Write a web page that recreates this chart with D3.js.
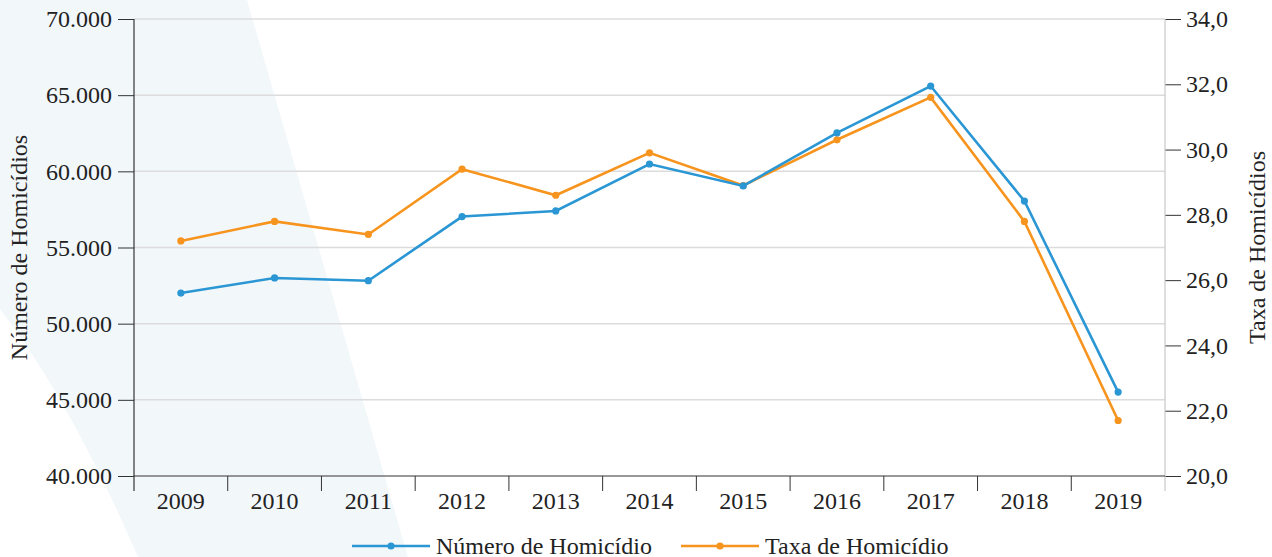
<!DOCTYPE html>
<html>
<head>
<meta charset="utf-8">
<script src="https://cdn.jsdelivr.net/npm/d3@7"></script>
<style>
  body { margin: 0; background: #fff; }
  svg text { font-family: "Liberation Serif", "Times New Roman", serif; fill: #222; }
</style>
</head>
<body>
<div id="chart"></div>
<script>
var years = ["2009","2010","2011","2012","2013","2014","2015","2016","2017","2018","2019"];
var numeroHomicidios = [52010, 53000, 52820, 57030, 57400, 60480, 59040, 62520, 65600, 58050, 45510];
var taxaHomicidios = [27.2, 27.8, 27.4, 29.4, 28.6, 29.9, 28.9, 30.3, 31.6, 27.8, 21.7];
var leftTicks = [40000, 45000, 50000, 55000, 60000, 65000, 70000];
var rightTicks = [20, 22, 24, 26, 28, 30, 32, 34];

var width = 1272, height = 557;
var mLeft = 134, mRight = 1165, mTop = 19, mBottom = 476;
var blue = "#2a96d3", orange = "#f7941e";
var fs = 24;

var ptbr = d3.formatLocale({decimal: ",", thousands: ".", grouping: [3], currency: ["R$", ""]});
var fmtL = ptbr.format(",.0f"), fmtR = ptbr.format(".1f");

var svg = d3.select("#chart").append("svg")
  .attr("width", width)
  .attr("height", height);

// faint background shape
svg.append("path")
  .attr("d", "M0,0 L247,0 L408,557 L138,557 Q70,400 0,309 Z")
  .attr("fill", "#f2f7fa");

var x = d3.scaleBand().domain(years).range([mLeft, mRight]);
var yL = d3.scaleLinear().domain([40000, 70000]).range([mBottom, mTop]);
var yR = d3.scaleLinear().domain([20, 34]).range([mBottom, mTop]);

// gridlines
svg.append("g").selectAll("line")
  .data(leftTicks.slice(1))
  .enter().append("line")
  .attr("x1", mLeft).attr("x2", mRight)
  .attr("y1", function(d){ return yL(d); })
  .attr("y2", function(d){ return yL(d); })
  .attr("stroke", "#dcdcdc")
  .attr("stroke-width", 1.5);

// right axis
var gR = svg.append("g")
  .attr("transform", "translate(" + mRight + ",0)")
  .call(d3.axisRight(yR).tickValues(rightTicks).tickFormat(fmtR).tickSize(16).tickPadding(5).tickSizeOuter(0));
gR.select(".domain").remove();
gR.append("line").attr("x1", 0).attr("x2", 0).attr("y1", mTop).attr("y2", 491)
  .attr("stroke", "#c8c8c8").attr("stroke-width", 1.2);
gR.selectAll(".tick line").attr("stroke", "#333");
gR.selectAll(".tick text").attr("font-size", fs).attr("fill", "#222")
  .style("font-family", "Liberation Serif, serif");

// left axis
var gL = svg.append("g")
  .attr("transform", "translate(" + mLeft + ",0)")
  .call(d3.axisLeft(yL).tickValues(leftTicks).tickFormat(fmtL).tickSize(16).tickPadding(6).tickSizeOuter(0));
gL.select(".domain").remove();
gL.append("line").attr("x1", 0).attr("x2", 0).attr("y1", mTop).attr("y2", 491)
  .attr("stroke", "#333").attr("stroke-width", 1.2);
gL.selectAll(".tick line").attr("stroke", "#333");
gL.selectAll(".tick text").attr("font-size", fs).attr("fill", "#222")
  .style("font-family", "Liberation Serif, serif");

// bottom axis
var gB = svg.append("g")
  .attr("transform", "translate(0," + mBottom + ")")
  .call(d3.axisBottom(x).tickSize(0).tickPadding(16));
gB.select(".domain").remove();
gB.append("line").attr("x1", mLeft).attr("x2", mRight).attr("y1", 0).attr("y2", 0)
  .attr("stroke", "#333").attr("stroke-width", 1.2);
gB.selectAll(".edge")
  .data(years.slice(1))
  .enter().append("line")
  .attr("x1", function(d){ return x(d); })
  .attr("x2", function(d){ return x(d); })
  .attr("y1", 0).attr("y2", 15)
  .attr("stroke", "#333");
gB.selectAll(".tick text").attr("font-size", fs).attr("fill", "#222")
  .style("font-family", "Liberation Serif, serif");

// axis titles
svg.append("text")
  .attr("transform", "translate(27," + ((mTop + mBottom) / 2) + ") rotate(-90)")
  .attr("text-anchor", "middle")
  .attr("font-size", fs)
  .text("Número de Homicídios");
svg.append("text")
  .attr("transform", "translate(1265," + ((mTop + mBottom) / 2) + ") rotate(-90)")
  .attr("text-anchor", "middle")
  .attr("font-size", fs)
  .text("Taxa de Homicídios");

var cx = function(d, i){ return x(years[i]) + x.bandwidth() / 2; };

function drawSeries(vals, scale, color) {
  var line = d3.line()
    .x(function(d, i){ return cx(d, i); })
    .y(function(d){ return scale(d); });
  svg.append("path")
    .datum(vals)
    .attr("d", line)
    .attr("fill", "none")
    .attr("stroke", color)
    .attr("stroke-width", 2.6);
  svg.append("g").selectAll("circle")
    .data(vals)
    .enter().append("circle")
    .attr("cx", cx)
    .attr("cy", function(d){ return scale(d); })
    .attr("r", 3.6)
    .attr("fill", color);
}
drawSeries(taxaHomicidios, yR, orange);
drawSeries(numeroHomicidios, yL, blue);

// legend
var legend = [
  {name: "Número de Homicídio", color: blue, x: 352},
  {name: "Taxa de Homicídio", color: orange, x: 681}
];
var lg = svg.append("g").selectAll("g")
  .data(legend)
  .enter().append("g")
  .attr("transform", function(d){ return "translate(" + d.x + ",546)"; });
lg.append("line").attr("x1", 0).attr("x2", 78).attr("y1", 0).attr("y2", 0)
  .attr("stroke", function(d){ return d.color; }).attr("stroke-width", 2.6);
lg.append("circle").attr("cx", 39).attr("cy", 0).attr("r", 3.6)
  .attr("fill", function(d){ return d.color; });
lg.append("text").attr("x", 84).attr("y", 8).attr("font-size", fs)
  .text(function(d){ return d.name; });
</script>
</body>
</html>
